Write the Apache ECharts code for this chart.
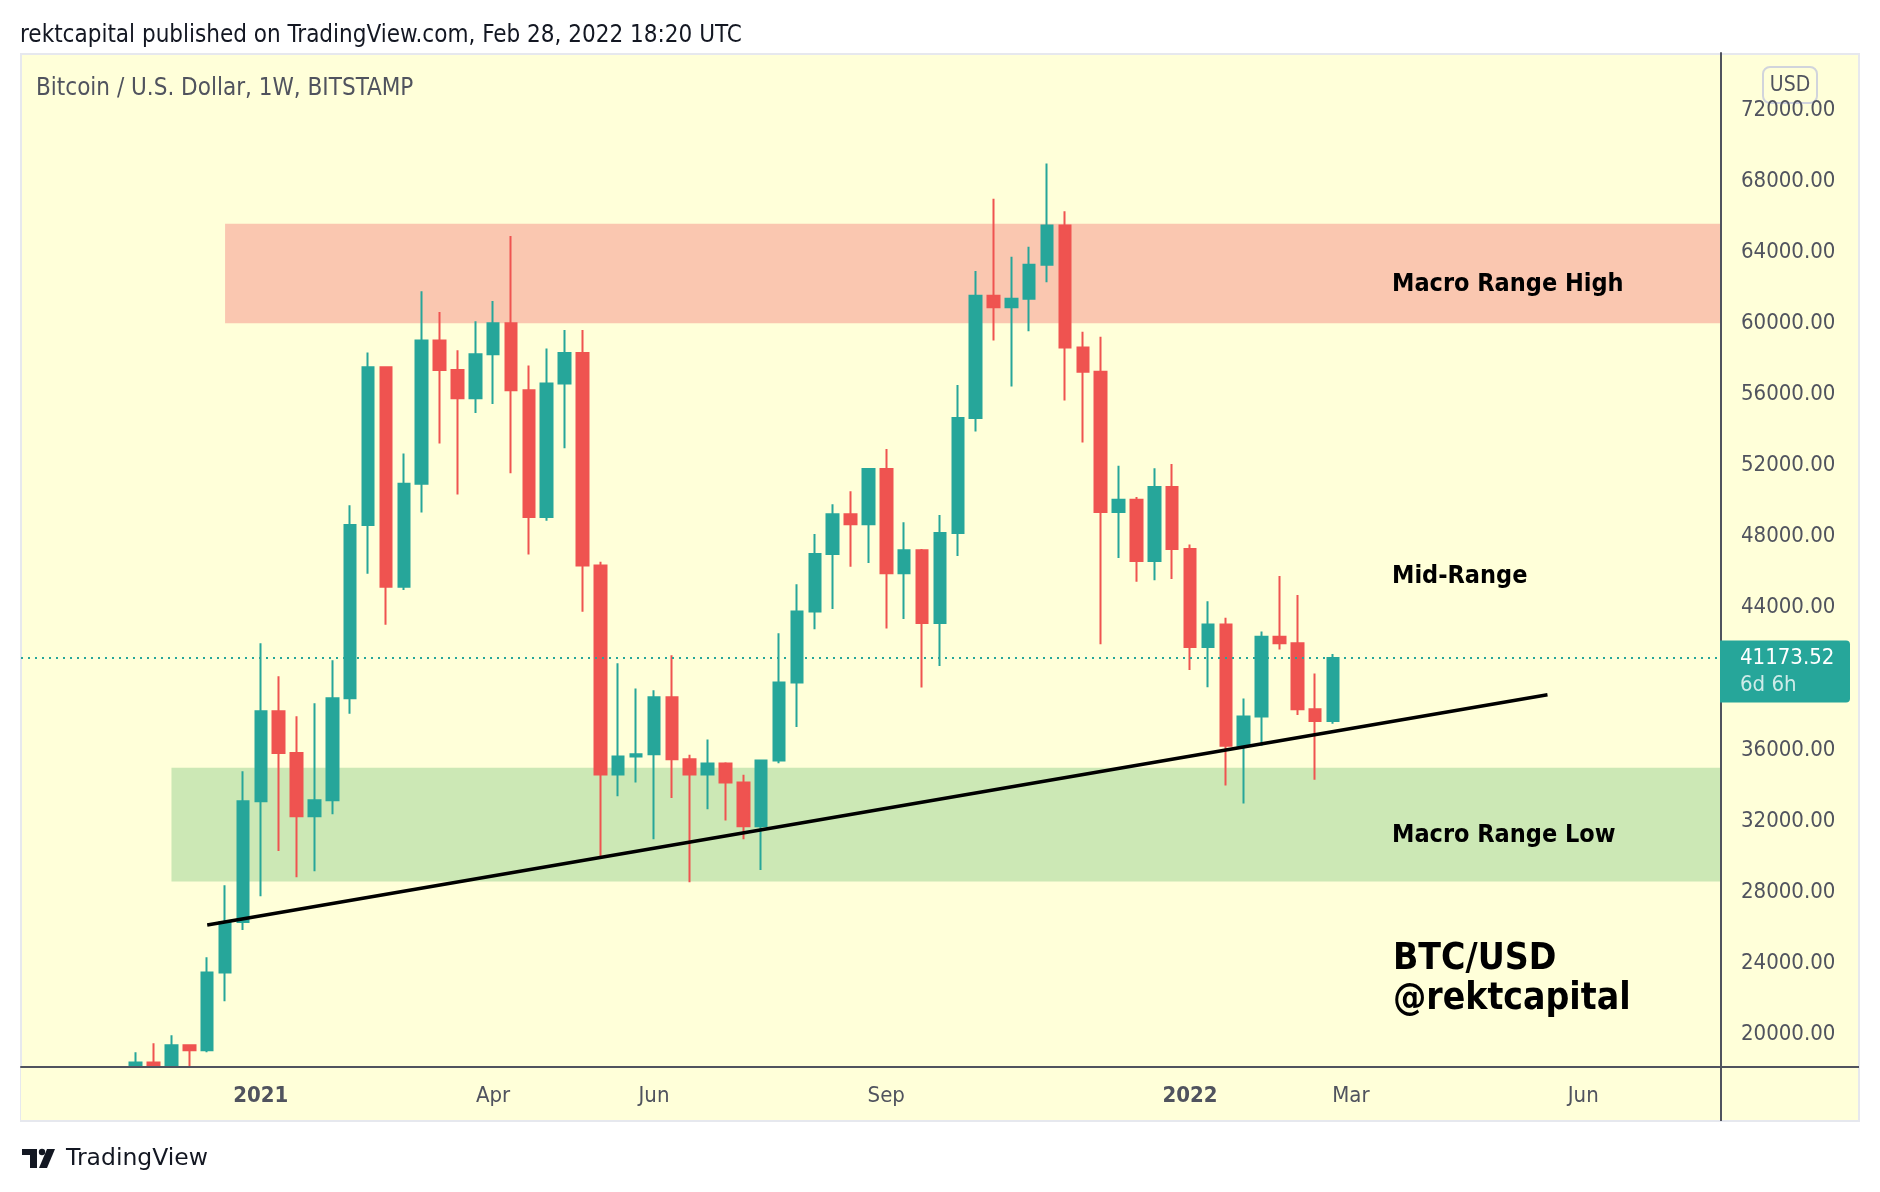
<!DOCTYPE html>
<html>
<head>
<meta charset="utf-8">
<script src="https://cdn.jsdelivr.net/npm/echarts@6/dist/echarts.min.js"></script>
<style>
html,body{margin:0;padding:0;background:#ffffff;}
#c{width:1880px;height:1192px;}
</style>
</head>
<body>
<div id="c"></div>
<script>
// ---- Weekly BTC/USD candles (Bitstamp, 1W) ----
const dates = [
 '2020-11-16','2020-11-23','2020-11-30','2020-12-07','2020-12-14','2020-12-21','2020-12-28',
 '2021-01-04','2021-01-11','2021-01-18','2021-01-25','2021-02-01','2021-02-08','2021-02-15','2021-02-22',
 '2021-03-01','2021-03-08','2021-03-15','2021-03-22','2021-03-29','2021-04-05','2021-04-12','2021-04-19','2021-04-26',
 '2021-05-03','2021-05-10','2021-05-17','2021-05-24','2021-05-31','2021-06-07','2021-06-14','2021-06-21','2021-06-28',
 '2021-07-05','2021-07-12','2021-07-19','2021-07-26','2021-08-02','2021-08-09','2021-08-16','2021-08-23','2021-08-30',
 '2021-09-06','2021-09-13','2021-09-20','2021-09-27','2021-10-04','2021-10-11','2021-10-18','2021-10-25',
 '2021-11-01','2021-11-08','2021-11-15','2021-11-22','2021-11-29','2021-12-06','2021-12-13','2021-12-20','2021-12-27',
 '2022-01-03','2022-01-10','2022-01-17','2022-01-24','2022-01-31','2022-02-07','2022-02-14','2022-02-21','2022-02-28'
];
const open = [
 15960,18420,18180,19380,19100,23480,26320,
 33110,38180,35830,32270,33170,38900,48660,57530,
 45180,50980,59040,57380,55790,58260,60000,56240,49110,
 56620,58330,46370,34620,35630,35750,38960,35480,34620,
 35230,34170,31700,35400,39790,43790,47020,49260,48700,
 51810,45940,47230,43140,48200,54670,61550,60900,
 61380,63300,65500,58640,57280,49390,50080,46630,50790,
 47300,41790,43050,36240,37880,42360,42000,38290,37630
];
const close = [
 18420,18180,19380,19100,23480,26320,33110,
 38180,35830,32270,33170,38900,48660,57530,45180,
 50980,59040,57380,55790,58260,60000,56240,49110,56620,
 58330,46370,34620,35630,35750,38960,35480,34620,35230,
 34170,31700,35400,39790,43790,47020,49260,48700,51810,
 45940,47230,43140,48200,54670,61550,60900,61380,
 63300,65500,58640,57280,49390,50080,46630,50790,47300,
 41790,43050,36240,37880,42360,42000,38290,37630,41173.52
];
const low = [
 15700,16200,18100,17600,18990,21860,25870,
 27770,30310,28840,29170,32380,38030,45910,43040,
 45000,49360,53240,50370,54960,55460,51560,46990,48890,
 52970,43770,30010,33390,34170,30970,33290,28550,32660,
 32030,30970,29250,35250,37290,42790,43930,46310,46520,
 42830,43370,39510,40720,46910,53920,59030,56440,
 59550,62310,55660,53290,41950,46800,45460,45550,45610,
 40500,39530,34000,32990,36240,41650,37970,34320,37470
];
const high = [
 18990,19490,19940,19440,24330,28380,34800,
 42000,40150,37900,38630,41050,49770,58360,57580,
 52670,61810,60630,58490,60120,61260,64910,57630,58590,
 59620,59620,46590,40870,39460,39360,41330,35730,36590,
 35300,34600,35450,42560,45320,48140,49820,50550,51850,
 52930,48810,47300,49220,56530,62950,67010,63750,
 64310,68990,66300,59520,59250,51980,50230,51850,52080,
 47560,44370,43440,38890,42660,45790,44720,40300,41400
];
const lastPrice = 41173.52;
const lastCountdown = '6d 6h';

// Price scale ticks
const priceTicks = [20000,24000,28000,32000,36000,40000,44000,48000,52000,56000,60000,64000,68000,72000];
// Time scale labels (first weekly bar of each labelled month)
const timeLabelDates = ['2021-01-04','2021-04-05','2021-06-07','2021-09-06','2022-01-03','2022-03-07','2022-06-06'];
const timeLabelTexts = ['2021','Apr','Jun','Sep','2022','Mar','Jun'];

// Drawings
const trendDates = ['2020-12-14','2022-05-23'];
const trendValues = [26150, 39100];
const highZone = { from: '2020-12-21', low: 60000, high: 65600 };
const lowZone  = { from: '2020-11-30', low: 28600, high: 35000 };

// ---- helpers ----
const WEEK = 7 * 24 * 3600 * 1000;
const ORIGIN = Date.parse('2021-01-04T00:00:00Z');
const wk = d => (Date.parse(d + 'T00:00:00Z') - ORIGIN) / WEEK;
const X_MIN = -13.42, X_MAX = 81.71;
const FONT = "'DejaVu Sans Condensed', 'DejaVu Sans', 'Noto Sans', sans-serif";
const FONT_W = "'DejaVu Sans', 'Noto Sans', sans-serif";
const UP = '#26A69A', DOWN = '#EF5350';
const BG = '#FFFFD9', AXIS = '#50535E', TXT = '#50535E';

const labelWeeks = timeLabelDates.map(wk);
const candleData = dates.map((d, i) => [wk(d), open[i], close[i], low[i], high[i]]);

const chart = echarts.init(document.getElementById('c'), null, { renderer: 'canvas' });

chart.setOption({
  animation: false,
  backgroundColor: '#ffffff',
  grid: { left: 21, right: 159, top: 53, bottom: 125, containLabel: false },
  xAxis: {
    type: 'value', min: X_MIN, max: X_MAX, z: 60,
    axisLine: { show: true, onZero: false, lineStyle: { color: AXIS, width: 2 } },
    axisTick: { show: false },
    splitLine: { show: false },
    axisLabel: {
      customValues: labelWeeks,
      margin: 18,
      color: TXT, fontSize: 22, fontFamily: FONT,
      formatter: v => {
        const i = labelWeeks.findIndex(w => Math.abs(w - v) < 1e-6);
        if (i < 0) return '';
        const t = timeLabelTexts[i];
        return /^\d{4}$/.test(t) ? '{yr|' + t + '}' : t;
      },
      rich: { yr: { fontWeight: 'bold', fontSize: 22, fontFamily: FONT, color: TXT } }
    }
  },
  yAxis: {
    type: 'value', position: 'right', min: 18160, max: 75208, scale: true, z: 60,
    axisLine: { show: true, onZero: false, lineStyle: { color: AXIS, width: 2 } },
    axisTick: { show: false },
    splitLine: { show: false },
    axisLabel: {
      customValues: priceTicks,
      margin: 20, align: 'left',
      color: TXT, fontSize: 22, fontFamily: FONT,
      formatter: v => v.toFixed(2)
    }
  },
  series: [
    {
      type: 'candlestick',
      data: candleData,
      encode: { x: 0, y: [1, 2, 3, 4] },
      barWidth: 12,
      clip: true,
      z: 3,
      itemStyle: { color: UP, color0: DOWN, borderColor: UP, borderColor0: DOWN, borderWidth: 2 },
      markArea: {
        silent: true,
        z: 1,
        data: [
          [ { xAxis: wk(highZone.from), yAxis: highZone.low, itemStyle: { color: '#FAC7B0' } },
            { xAxis: X_MAX, yAxis: highZone.high } ],
          [ { xAxis: wk(lowZone.from), yAxis: lowZone.low, itemStyle: { color: '#CCE8B5' } },
            { xAxis: X_MAX, yAxis: lowZone.high } ]
        ]
      },
      markLine: {
        silent: true,
        symbol: ['none', 'none'],
        z: 6,
        label: { show: false },
        lineStyle: { color: UP, width: 2, type: [2, 5] },
        data: [ { yAxis: lastPrice } ]
      }
    },
    {
      type: 'line',
      data: trendDates.map((d, i) => [wk(d), trendValues[i]]),
      symbol: 'none',
      z: 10,
      lineStyle: { color: '#000000', width: 3.5 }
    }
  ]
});

// Positions derived from the axis scales
const yLast = chart.convertToPixel({ yAxisIndex: 0 }, lastPrice);
const xRight = chart.convertToPixel({ xAxisIndex: 0 }, X_MAX);
const xLeft = chart.convertToPixel({ xAxisIndex: 0 }, X_MIN);
const yBottom = chart.convertToPixel({ yAxisIndex: 0 }, 18160);

const txt = (text, x, y, size, opts) => Object.assign({
  type: 'text', x, y, z: 100,
  style: Object.assign({ text, fontSize: size, fontFamily: FONT, fill: '#131722', verticalAlign: 'middle', align: 'left' }, (opts && opts.style) || {})
}, opts && opts.el || {});

chart.setOption({
  graphic: { elements: [
    // panel background + frame
    { type: 'rect', z: -10, shape: { x: 21, y: 54, width: 1838, height: 1067 },
      style: { fill: BG, stroke: '#E6E8EE', lineWidth: 2 } },
    // time-scale strip: hides candle parts below the visible price range
    { type: 'rect', z: 50, shape: { x: xLeft, y: yBottom + 1, width: xRight - xLeft, height: 1120 - yBottom - 1 },
      style: { fill: BG } },
    // axis separators extended through the scale areas
    { type: 'line', z: 61, shape: { x1: xRight, y1: yBottom, x2: 1859, y2: yBottom }, style: { stroke: AXIS, lineWidth: 2 } },
    { type: 'line', z: 61, shape: { x1: xRight, y1: yBottom, x2: xRight, y2: 1121 }, style: { stroke: AXIS, lineWidth: 2 } },
    // header
    txt('rektcapital published on TradingView.com, Feb 28, 2022 18:20 UTC', 20, 36, 24),
    txt('Bitcoin / U.S. Dollar, 1W, BITSTAMP', 36, 89, 24, { style: { fill: TXT } }),
    // USD box
    { type: 'rect', z: 60, shape: { x: 1763, y: 67, width: 54, height: 36, r: 7 },
      style: { fill: BG, stroke: '#D1D4DC', lineWidth: 2 } },
    txt('USD', 1790, 86, 21, { el: { z: 101 }, style: { fill: TXT, align: 'center' } }),
    // annotations
    txt('Macro Range High', 1392, 284, 25, { style: { fontWeight: 'bold', fill: '#000' } }),
    txt('Mid-Range', 1392, 576, 25, { style: { fontWeight: 'bold', fill: '#000' } }),
    txt('Macro Range Low', 1392, 835, 25, { style: { fontWeight: 'bold', fill: '#000' } }),
    txt('BTC/USD', 1393, 959, 37, { style: { fontWeight: 'bold', fill: '#000' } }),
    txt('@rektcapital', 1393, 999, 37, { style: { fontWeight: 'bold', fill: '#000' } }),
    // last price box
    { type: 'rect', z: 70, shape: { x: xRight - 1, y: yLast - 17.5, width: 130, height: 62, r: [0, 4, 4, 0] },
      style: { fill: UP } },
    txt(lastPrice.toFixed(2), 1740, yLast, 22, { el: { z: 71 }, style: { fill: '#ffffff' } }),
    txt(lastCountdown, 1740, yLast + 27, 22, { el: { z: 71 }, style: { fill: 'rgba(255,255,255,0.78)' } }),
    // footer logo
    { type: 'rect', z: 100, shape: { x: 22, y: 1149, width: 15, height: 6 }, style: { fill: '#131722' } },
    { type: 'rect', z: 100, shape: { x: 30, y: 1149, width: 7, height: 19 }, style: { fill: '#131722' } },
    { type: 'circle', z: 100, shape: { cx: 42, cy: 1152, r: 3.2 }, style: { fill: '#131722' } },
    { type: 'polygon', z: 100, shape: { points: [[47, 1149], [55, 1149], [47, 1168], [39, 1168]] }, style: { fill: '#131722' } },
    txt('TradingView', 66, 1159, 23.5, { style: { fill: '#131722', fontFamily: FONT_W } })
  ]}
});
</script>
</body>
</html>
